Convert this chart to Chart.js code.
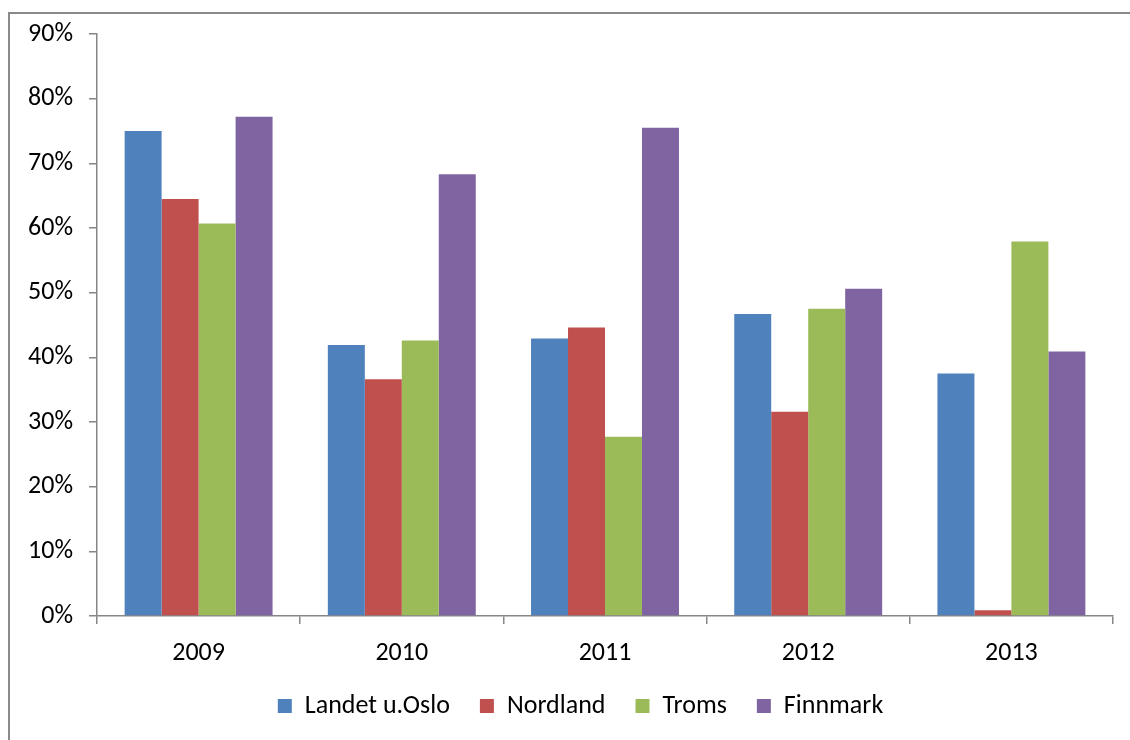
<!DOCTYPE html>
<html>
<head>
<meta charset="utf-8">
<script src="https://cdn.jsdelivr.net/npm/chart.js@4.4.1/dist/chart.umd.min.js"></script>
<style>
  html, body { margin: 0; padding: 0; background: #ffffff; }
  body { width: 1130px; height: 740px; position: relative; overflow: hidden; }
  #frame {
    position: absolute; left: 8px; top: 12px; width: 1200px; height: 800px;
    border-left: 2px solid #8a8a8a; border-top: 2px solid #8a8a8a;
  }
  #wrap { position: absolute; left: 0; top: 0; width: 1130px; height: 740px; }
</style>
</head>
<body>
<div id="frame"></div>
<div id="wrap"><canvas id="chart" width="1130" height="740"></canvas></div>
<script>
// Years on the category axis
const years = ['2009', '2010', '2011', '2012', '2013'];

// Share per region, in percent
const landetUOslo = [75.0, 41.9, 42.9, 46.7, 37.5];
const nordland    = [64.5, 36.6, 44.6, 31.6, 0.9];
const troms       = [60.7, 42.6, 27.7, 47.5, 57.9];
const finnmark    = [77.2, 68.3, 75.5, 50.6, 40.9];

// Y-axis ticks
const yTicks = [0, 10, 20, 30, 40, 50, 60, 70, 80, 90];

const fontFamily = "Carlito, Lato, 'Open Sans', sans-serif";
const axisGray = '#868686';

// Centre the legend under the plot area rather than the whole canvas
const legendShift = {
  id: 'legendShift',
  afterLayout(chart) {
    const lg = chart.legend;
    if (!lg) return;
    const dx = 24;
    lg.left += dx;
    lg.right += dx;
  }
};

new Chart(document.getElementById('chart'), {
  type: 'bar',
  data: {
    labels: years,
    datasets: [
      { label: 'Landet u.Oslo', data: landetUOslo, backgroundColor: '#4F81BD' },
      { label: 'Nordland',      data: nordland,    backgroundColor: '#C0504D' },
      { label: 'Troms',         data: troms,       backgroundColor: '#9BBB59' },
      { label: 'Finnmark',      data: finnmark,    backgroundColor: '#8064A2' }
    ]
  },
  plugins: [legendShift],
  options: {
    responsive: false,
    animation: false,
    devicePixelRatio: 1,
    layout: { padding: { top: 34, right: 17, bottom: 11, left: 0 } },
    datasets: { bar: { categoryPercentage: 0.728, barPercentage: 1.0 } },
    plugins: {
      tooltip: { enabled: false },
      legend: {
        position: 'bottom',
        labels: {
          boxWidth: 14, boxHeight: 14, padding: 30,
          color: '#000000',
          font: { family: fontFamily, size: 26 }
        }
      }
    },
    scales: {
      x: {
        grid: {
          display: true, drawOnChartArea: false, offset: true,
          tickLength: 8, color: axisGray, lineWidth: 1.5
        },
        border: { color: axisGray, width: 1.5 },
        ticks: {
          color: '#000000', padding: 14,
          font: { family: fontFamily, size: 26 }
        },
        afterFit(scale) { scale.height = 47; }
      },
      y: {
        min: 0, max: 90,
        afterBuildTicks(scale) { scale.ticks = yTicks.map(v => ({ value: v })); },
        grid: {
          display: true, drawOnChartArea: false,
          tickLength: 8, color: axisGray, lineWidth: 1.5
        },
        border: { color: axisGray, width: 1.5 },
        ticks: {
          color: '#000000', padding: 16,
          font: { family: fontFamily, size: 26 },
          callback: v => v + '%'
        },
        afterFit(scale) { scale.width = 97; }
      }
    }
  }
});
</script>
</body>
</html>
